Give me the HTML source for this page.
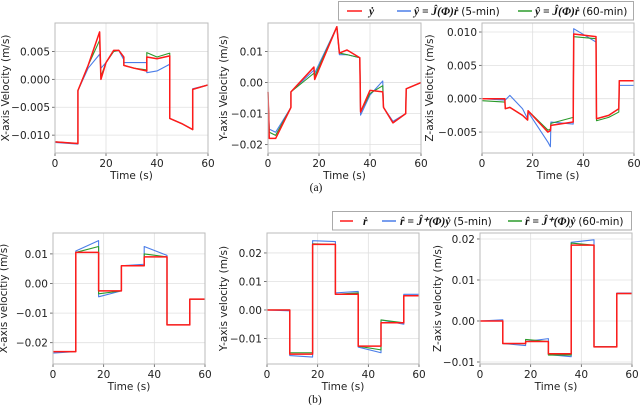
<!DOCTYPE html>
<html><head><meta charset="utf-8">
<style>
html,body{margin:0;padding:0;background:#fff;}
svg{display:block;font-family:"DejaVu Sans","Liberation Sans",sans-serif;}
.tk{font-size:10.5px;fill:#222;}
.lg{font-family:"Liberation Serif",serif;font-size:11.5px;fill:#111;}
.ls{font-family:"DejaVu Sans","Liberation Sans",sans-serif;font-size:10.5px;}
</style></head>
<body>
<svg id="fig" width="640" height="405" viewBox="0 0 640 405" xmlns="http://www.w3.org/2000/svg">
<g>
<rect x="338.5" y="1.5" width="295" height="18.5" fill="#fff" stroke="#aaa"/>
<line x1="347" y1="11" x2="362" y2="11" stroke="#ff1a1a" stroke-width="1.5"/>
<text class="lg" x="369" y="15" font-weight="bold" font-style="italic">ẏ</text>
<line x1="397" y1="11" x2="411" y2="11" stroke="#4a7de8" stroke-width="1.5"/>
<text class="lg" x="414" y="15"><tspan font-weight="bold" font-style="italic">ŷ = Ĵ(Φ)ṙ</tspan> <tspan class="ls">(5-min)</tspan></text>
<line x1="518" y1="11" x2="532" y2="11" stroke="#2a9a2a" stroke-width="1.5"/>
<text class="lg" x="535" y="15"><tspan font-weight="bold" font-style="italic">ŷ = Ĵ(Φ)ṙ</tspan> <tspan class="ls">(60-min)</tspan></text>
</g>
<g>
<rect x="332.5" y="211.5" width="299" height="18.5" fill="#fff" stroke="#aaa"/>
<line x1="340" y1="221" x2="353" y2="221" stroke="#ff1a1a" stroke-width="1.5"/>
<text class="lg" x="363" y="225" font-weight="bold" font-style="italic">ṙ</text>
<line x1="382" y1="221" x2="396" y2="221" stroke="#4a7de8" stroke-width="1.5"/>
<text class="lg" x="400" y="225"><tspan font-weight="bold" font-style="italic">r̂ = Ĵ⁺(Φ)ẏ</tspan> <tspan class="ls">(5-min)</tspan></text>
<line x1="508" y1="221" x2="522" y2="221" stroke="#2a9a2a" stroke-width="1.5"/>
<text class="lg" x="525" y="225"><tspan font-weight="bold" font-style="italic">r̂ = Ĵ⁺(Φ)ẏ</tspan> <tspan class="ls">(60-min)</tspan></text>
</g>
<text class="lg" x="316" y="191" text-anchor="middle">(a)</text>
<text class="lg" x="315" y="403" text-anchor="middle">(b)</text>
</svg>
<script>
const tA1 = [0,9,9,13,17.5,18,20,23,25,27,27,31,36,36,40,45,45,50,54,54,60];
const redA1 = [-0.0112,-0.0115,-0.002,0.0025,0.0085,0.000,0.003,0.0052,0.0052,0.004,0.0025,0.002,0.0015,0.004,0.0037,0.0042,-0.007,-0.008,-0.009,-0.0018,-0.001];
const blueA1 = [-0.0113,-0.0116,-0.002,0.002,0.0045,0.002,0.003,0.005,0.0052,0.0035,0.003,0.003,0.003,0.0012,0.0015,0.0027,-0.007,-0.008,-0.009,-0.0017,-0.001];
const greenA1 = [-0.0112,-0.0115,-0.002,0.0025,0.007,0.0005,0.003,0.005,0.0052,0.004,0.0025,0.002,0.0017,0.0048,0.004,0.0047,-0.007,-0.008,-0.009,-0.0018,-0.001];
const tA2 = [0,0.5,3,9,9,18,18.3,27,28,31,36,36.3,40,45,45.3,49,54,54.2,60];
const redA2 = [-0.003,-0.018,-0.018,-0.008,-0.003,0.005,0.001,0.018,0.0095,0.0105,0.008,-0.0095,-0.0025,-0.003,-0.008,-0.013,-0.010,-0.002,0.0];
const blueA2 = [-0.003,-0.015,-0.016,-0.008,-0.003,0.004,0.003,0.018,0.009,0.009,0.008,-0.0105,-0.004,0.0005,-0.008,-0.0125,-0.010,-0.002,0.0];
const greenA2 = [-0.003,-0.016,-0.017,-0.008,-0.003,0.003,0.002,0.018,0.0095,0.009,0.008,-0.0095,-0.0035,-0.001,-0.008,-0.013,-0.010,-0.002,0.0];
const tA3 = [0,9,9.2,11,16,18,18.2,26,27,27.2,36,36.2,45,45.2,50,54,54.2,60];
const redA3 = [0,0,-0.0015,-0.0013,-0.0025,-0.0032,-0.0018,-0.005,-0.0048,-0.004,-0.0035,0.0097,0.0093,-0.003,-0.0025,-0.0015,0.0027,0.0027];
const blueA3 = [0,-0.0002,-0.0002,0.0005,-0.0015,-0.003,-0.002,-0.0065,-0.0072,-0.0035,-0.0038,0.0105,0.0085,-0.003,-0.0025,-0.0015,0.002,0.002];
const greenA3 = [-0.0003,-0.0005,-0.0015,-0.0013,-0.0025,-0.0032,-0.0018,-0.0047,-0.0046,-0.0037,-0.0028,0.0093,0.009,-0.0033,-0.0028,-0.002,0.0027,0.0027];
const tB = [0,9,9,18,18,27,27,36,36,45,45,54,54,60];
const redB1 = [-0.023,-0.023,0.0105,0.0105,-0.0025,-0.0025,0.006,0.006,0.009,0.009,-0.014,-0.014,-0.0053,-0.0053];
const blueB1 = [-0.0235,-0.023,0.011,0.0145,-0.0045,-0.0025,0.006,0.0065,0.0125,0.0095,-0.014,-0.014,-0.0053,-0.0053];
const greenB1 = [-0.023,-0.023,0.0105,0.0125,-0.0035,-0.0025,0.006,0.006,0.01,0.009,-0.014,-0.014,-0.0053,-0.0053];
const redB2 = [0,0,-0.0155,-0.0155,0.023,0.023,0.0055,0.0055,-0.0127,-0.0127,-0.0045,-0.0045,0.005,0.005];
const blueB2 = [0,-0.0003,-0.016,-0.0165,0.0243,0.024,0.006,0.0065,-0.013,-0.015,-0.0035,-0.005,0.0055,0.0055];
const greenB2 = [0,0,-0.015,-0.015,0.0232,0.023,0.0055,0.006,-0.0127,-0.014,-0.0035,-0.0045,0.005,0.005];
const redB3 = [0,0,-0.0055,-0.0055,-0.005,-0.005,-0.008,-0.008,0.0185,0.0185,-0.0063,-0.0063,0.0067,0.0067];
const blueB3 = [0,0.0003,-0.0055,-0.006,-0.005,-0.0043,-0.0082,-0.0087,0.0192,0.0198,-0.0062,-0.0063,0.0068,0.0068];
const greenB3 = [0,0,-0.0055,-0.0055,-0.0045,-0.005,-0.0083,-0.0083,0.019,0.0185,-0.0063,-0.0063,0.0067,0.0067];
const xTicks = [0,20,40,60];
const ticksA1 = [0.005,0,-0.005,-0.010];
const ticksA2 = [0.01,0,-0.01,-0.02];
const ticksA3 = [0.010,0.005,0,-0.005];
const ticksB1 = [0.01,0,-0.01,-0.02];
const ticksB2 = [0.02,0.01,0,-0.01];
const ticksB3 = [0.02,0.01,0,-0.01];
const labelsA1 = ['0.005','0.000','\u22120.005','\u22120.010'];
const labelsA2 = ['0.01','0.00','\u22120.01','\u22120.02'];
const labelsA3 = ['0.010','0.005','0.000','\u22120.005'];
const labelsB1 = ['0.01','0.00','\u22120.01','\u22120.02'];
const labelsB2 = ['0.02','0.01','0.00','\u22120.01'];
const labelsB3 = ['0.02','0.01','0.00','\u22120.01'];

const NS = 'http://www.w3.org/2000/svg';
const svg = document.getElementById('fig');
function mk(tag, attrs, parent){
  const e = document.createElementNS(NS, tag);
  for (const k in attrs) e.setAttribute(k, attrs[k]);
  (parent||svg).appendChild(e);
  return e;
}
function panel(id, box, dom, t, series, ticks, labels, ylab, ylabX){
  const g = mk('g', {});
  
  
  const xs = v => box.x0 + (v - 0) / 60 * (box.x1 - box.x0);
  const ys = v => box.y1 - (v - dom[0]) / (dom[1] - dom[0]) * (box.y1 - box.y0);
  xTicks.forEach(v => {
    const l = mk('line', {x1:xs(v), x2:xs(v), y1:box.y0, y2:box.y1, stroke:'#e0e0e0', 'stroke-width':0.8}, g);
    
    
    mk('line', {x1:xs(v), x2:xs(v), y1:box.y1, y2:box.y1+3, stroke:'#555', 'stroke-width':0.8}, g);
    const tx = mk('text', {x:xs(v), y:box.y1+14, 'text-anchor':'middle', class:'tk'}, g);
    tx.textContent = v;
    
    
  });
  ticks.forEach((v,i) => {
    const l = mk('line', {x1:box.x0, x2:box.x1, y1:ys(v), y2:ys(v), stroke:'#e0e0e0', 'stroke-width':0.8}, g);
    
    
    mk('line', {x1:box.x0-3, x2:box.x0, y1:ys(v), y2:ys(v), stroke:'#555', 'stroke-width':0.8}, g);
    const tx = mk('text', {x:box.x0-5, y:ys(v)+4, 'text-anchor':'end', class:'tk'}, g);
    tx.textContent = labels[i];
    
    
  });
  const cols = ['#4a7de8','#2a9a2a','#ff1a1a'];
  const names = ['series-5min','series-60min','series-measured'];
  series.forEach((s, si) => {
    const d = s.map((v,i) => (i?'L':'M') + xs(t[i]).toFixed(2) + ' ' + ys(v).toFixed(2)).join(' ');
    const p = mk('path', {d:d, fill:'none', stroke:cols[si], 'stroke-width': si==2?1.5:1.1, 'stroke-linejoin':'round'}, g);
    
    
  });
  const fr = mk('rect', {x:box.x0, y:box.y0, width:box.x1-box.x0, height:box.y1-box.y0, fill:'none', stroke:'#bbb', 'stroke-width':1}, g);
  
  
  const xl = mk('text', {x:(box.x0+box.x1)/2, y:box.y1+26, 'text-anchor':'middle', class:'tk', 'font-size':'11.5px'}, g);
  xl.textContent = 'Time (s)';
  
  
  const cy = (box.y0+box.y1)/2;
  const yl = mk('text', {x:ylabX, y:cy, 'text-anchor':'middle', class:'tk', 'font-size':'11px', transform:'rotate(-90 '+ylabX+' '+cy+')'}, g);
  yl.textContent = ylab;
  
  
}
panel('x-velocity-a', {x0:55,x1:208,y0:23,y1:153}, [-0.0132,0.0101], tA1, [blueA1,greenA1,redA1], ticksA1, labelsA1, 'X-axis Velocity (m/s)', 9);
panel('y-velocity-a', {x0:268,x1:421,y0:23,y1:153}, [-0.0227,0.0192], tA2, [blueA2,greenA2,redA2], ticksA2, labelsA2, 'Y-axis Velocity (m/s)', 227);
panel('z-velocity-a', {x0:482,x1:634,y0:23,y1:153}, [-0.00814,0.01135], tA3, [blueA3,greenA3,redA3], ticksA3, labelsA3, 'Z-axis Velocity (m/s)', 433);
panel('x-velocity-b', {x0:53,x1:205,y0:233,y1:364}, [-0.0272,0.01706], tB, [blueB1,greenB1,redB1], ticksB1, labelsB1, 'X-axis velocitiy (m/s)', 7);
panel('y-velocity-b', {x0:267,x1:419,y0:233,y1:364}, [-0.01895,0.0270], tB, [blueB2,greenB2,redB2], ticksB2, labelsB2, 'Y-axis velocity (m/s)', 227);
panel('z-velocity-b', {x0:480,x1:632,y0:233,y1:364}, [-0.01049,0.02146], tB, [blueB3,greenB3,redB3], ticksB3, labelsB3, 'Z-axis velocity (m/s)', 441);
</script>
</body></html>
